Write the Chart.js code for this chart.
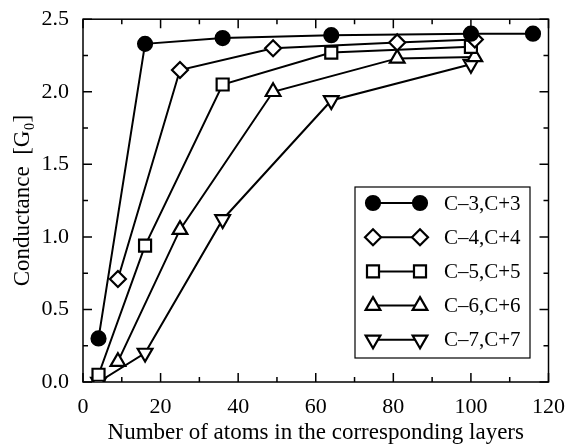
<!DOCTYPE html>
<html>
<head>
<meta charset="utf-8">
<script src="https://cdn.jsdelivr.net/npm/chart.js@4/dist/chart.umd.min.js"></script>
<style>
  html, body { margin: 0; padding: 0; background: #fff; }
  #wrap { width: 569px; height: 447px; position: relative; }
</style>
</head>
<body>
<div id="wrap"><canvas id="chart"></canvas></div>
<script>
// series: number of atoms (x) vs conductance in G0 (y)
const seriesNames = ["C\u20133,C+3", "C\u20134,C+4", "C\u20135,C+5", "C\u20136,C+6", "C\u20137,C+7"];
const atomsC3 = [4, 16, 36, 64, 100, 116];
const condC3  = [0.30, 2.33, 2.37, 2.39, 2.40, 2.40];
const atomsC4 = [9, 25, 49, 81, 101];
const condC4  = [0.71, 2.15, 2.30, 2.34, 2.36];
const atomsC5 = [4, 16, 36, 64, 100];
const condC5  = [0.05, 0.94, 2.05, 2.27, 2.31];
const atomsC6 = [9, 25, 49, 81, 101];
const condC6  = [0.14, 1.05, 2.00, 2.23, 2.24];
const atomsC7 = [4, 16, 36, 64, 100];
const condC7  = [0.00, 0.20, 1.12, 1.94, 2.19];

const xTicks = [0, 20, 40, 60, 80, 100, 120];
const yTicks = [0.0, 0.5, 1.0, 1.5, 2.0, 2.5];

const FONT = "'Liberation Serif', 'DejaVu Serif', serif";
const pts = (xs, ys) => xs.map((x, i) => ({ x, y: ys[i] }));

// marker look per series
const markers = [
  { style: "circle",   radius: 7,   fill: "#000", rot: 0 },
  { style: "rectRot",  radius: 8,   fill: "#fff", rot: 0 },
  { style: "rect",     radius: 8.5, fill: "#fff", rot: 0 },
  { style: "triangle", radius: 8.5, fill: "#fff", rot: 0 },
  { style: "triangle", radius: 8.5, fill: "#fff", rot: 180 }
];
const seriesData = [pts(atomsC3, condC3), pts(atomsC4, condC4), pts(atomsC5, condC5),
                    pts(atomsC6, condC6), pts(atomsC7, condC7)];

const datasets = seriesData.map((d, i) => ({
  label: seriesNames[i], data: d,
  borderColor: "#000", borderWidth: 2,
  pointStyle: markers[i].style, pointRadius: markers[i].radius, pointRotation: markers[i].rot,
  pointBackgroundColor: markers[i].fill, pointBorderColor: "#000", pointBorderWidth: 2.2,
  pointHoverRadius: markers[i].radius, tension: 0, fill: false
}));

// frame + inward major/minor ticks on all four sides
const frameTicks = {
  id: "frameTicks",
  beforeDatasetsDraw(chart) {
    const { ctx, chartArea: a, scales: { x, y } } = chart;
    ctx.save();
    ctx.strokeStyle = "#000"; ctx.lineWidth = 1.5;
    ctx.strokeRect(a.left, a.top, a.right - a.left, a.bottom - a.top);
    ctx.beginPath();
    for (let v = 0; v <= 120; v += 10) {
      const px = x.getPixelForValue(v), len = v % 20 === 0 ? 9 : 5;
      ctx.moveTo(px, a.bottom); ctx.lineTo(px, a.bottom - len);
      ctx.moveTo(px, a.top); ctx.lineTo(px, a.top + len);
    }
    for (let k = 0; k <= 10; k++) {
      const py = y.getPixelForValue(k * 0.25), len = k % 2 === 0 ? 9 : 5;
      ctx.moveTo(a.left, py); ctx.lineTo(a.left + len, py);
      ctx.moveTo(a.right, py); ctx.lineTo(a.right - len, py);
    }
    ctx.stroke();
    ctx.restore();
  }
};

// boxed legend with a marker at both ends of each sample line
const pairLegend = {
  id: "pairLegend",
  afterDatasetsDraw(chart) {
    const { ctx } = chart;
    const box = { l: 355, t: 187, r: 530, b: 358 };
    ctx.save();
    ctx.fillStyle = "#fff";
    ctx.fillRect(box.l, box.t, box.r - box.l, box.b - box.t);
    ctx.strokeStyle = "#000"; ctx.lineWidth = 1.2;
    ctx.strokeRect(box.l, box.t, box.r - box.l, box.b - box.t);
    ctx.font = "21px " + FONT; ctx.textBaseline = "middle";
    chart.data.datasets.forEach((ds, i) => {
      const yy = 203 + i * 34.2, x0 = 373, x1 = 420;
      ctx.lineWidth = 2; ctx.strokeStyle = "#000";
      ctx.beginPath(); ctx.moveTo(x0, yy); ctx.lineTo(x1, yy); ctx.stroke();
      ctx.lineWidth = ds.pointBorderWidth; ctx.fillStyle = ds.pointBackgroundColor;
      for (const px of [x0, x1]) {
        Chart.helpers.drawPoint(ctx, { pointStyle: ds.pointStyle, radius: ds.pointRadius,
          rotation: ds.pointRotation, borderWidth: ds.pointBorderWidth }, px, yy);
      }
      ctx.fillStyle = "#000";
      ctx.fillText(ds.label, 444, yy + 1);
    });
    ctx.restore();
  }
};

new Chart(document.getElementById("chart"), {
  type: "line",
  data: { datasets },
  options: {
    responsive: true, maintainAspectRatio: false, animation: false,
    layout: { padding: { top: 13, right: 16, left: 0, bottom: 0 } },
    plugins: { legend: { display: false }, tooltip: { enabled: false } },
    scales: {
      x: {
        type: "linear", min: 0, max: 120,
        afterBuildTicks: s => { s.ticks = xTicks.map(v => ({ value: v })); },
        afterFit: s => { s.height = 65; },
        grid: { display: false }, border: { display: false },
        ticks: { color: "#000", padding: 4, maxRotation: 0, font: { family: FONT, size: 22 } },
        title: { display: true, text: "Number of atoms in the corresponding layers", color: "#000",
                 padding: { top: 0, bottom: 0 }, font: { family: FONT, size: 23 } }
      },
      y: {
        type: "linear", min: 0, max: 2.5,
        afterBuildTicks: s => { s.ticks = yTicks.map(v => ({ value: v })); },
        afterFit: s => { s.width = 83; },
        grid: { display: false }, border: { display: false },
        ticks: { color: "#000", padding: 6, callback: v => v.toFixed(1), font: { family: FONT, size: 22 } },
        title: { display: true, text: "Conductance  [G\u2080]", color: "#000",
                 padding: { top: 9, bottom: 0 }, font: { family: FONT, size: 23 } }
      }
    }
  },
  plugins: [frameTicks, pairLegend]
});
</script>
</body>
</html>
